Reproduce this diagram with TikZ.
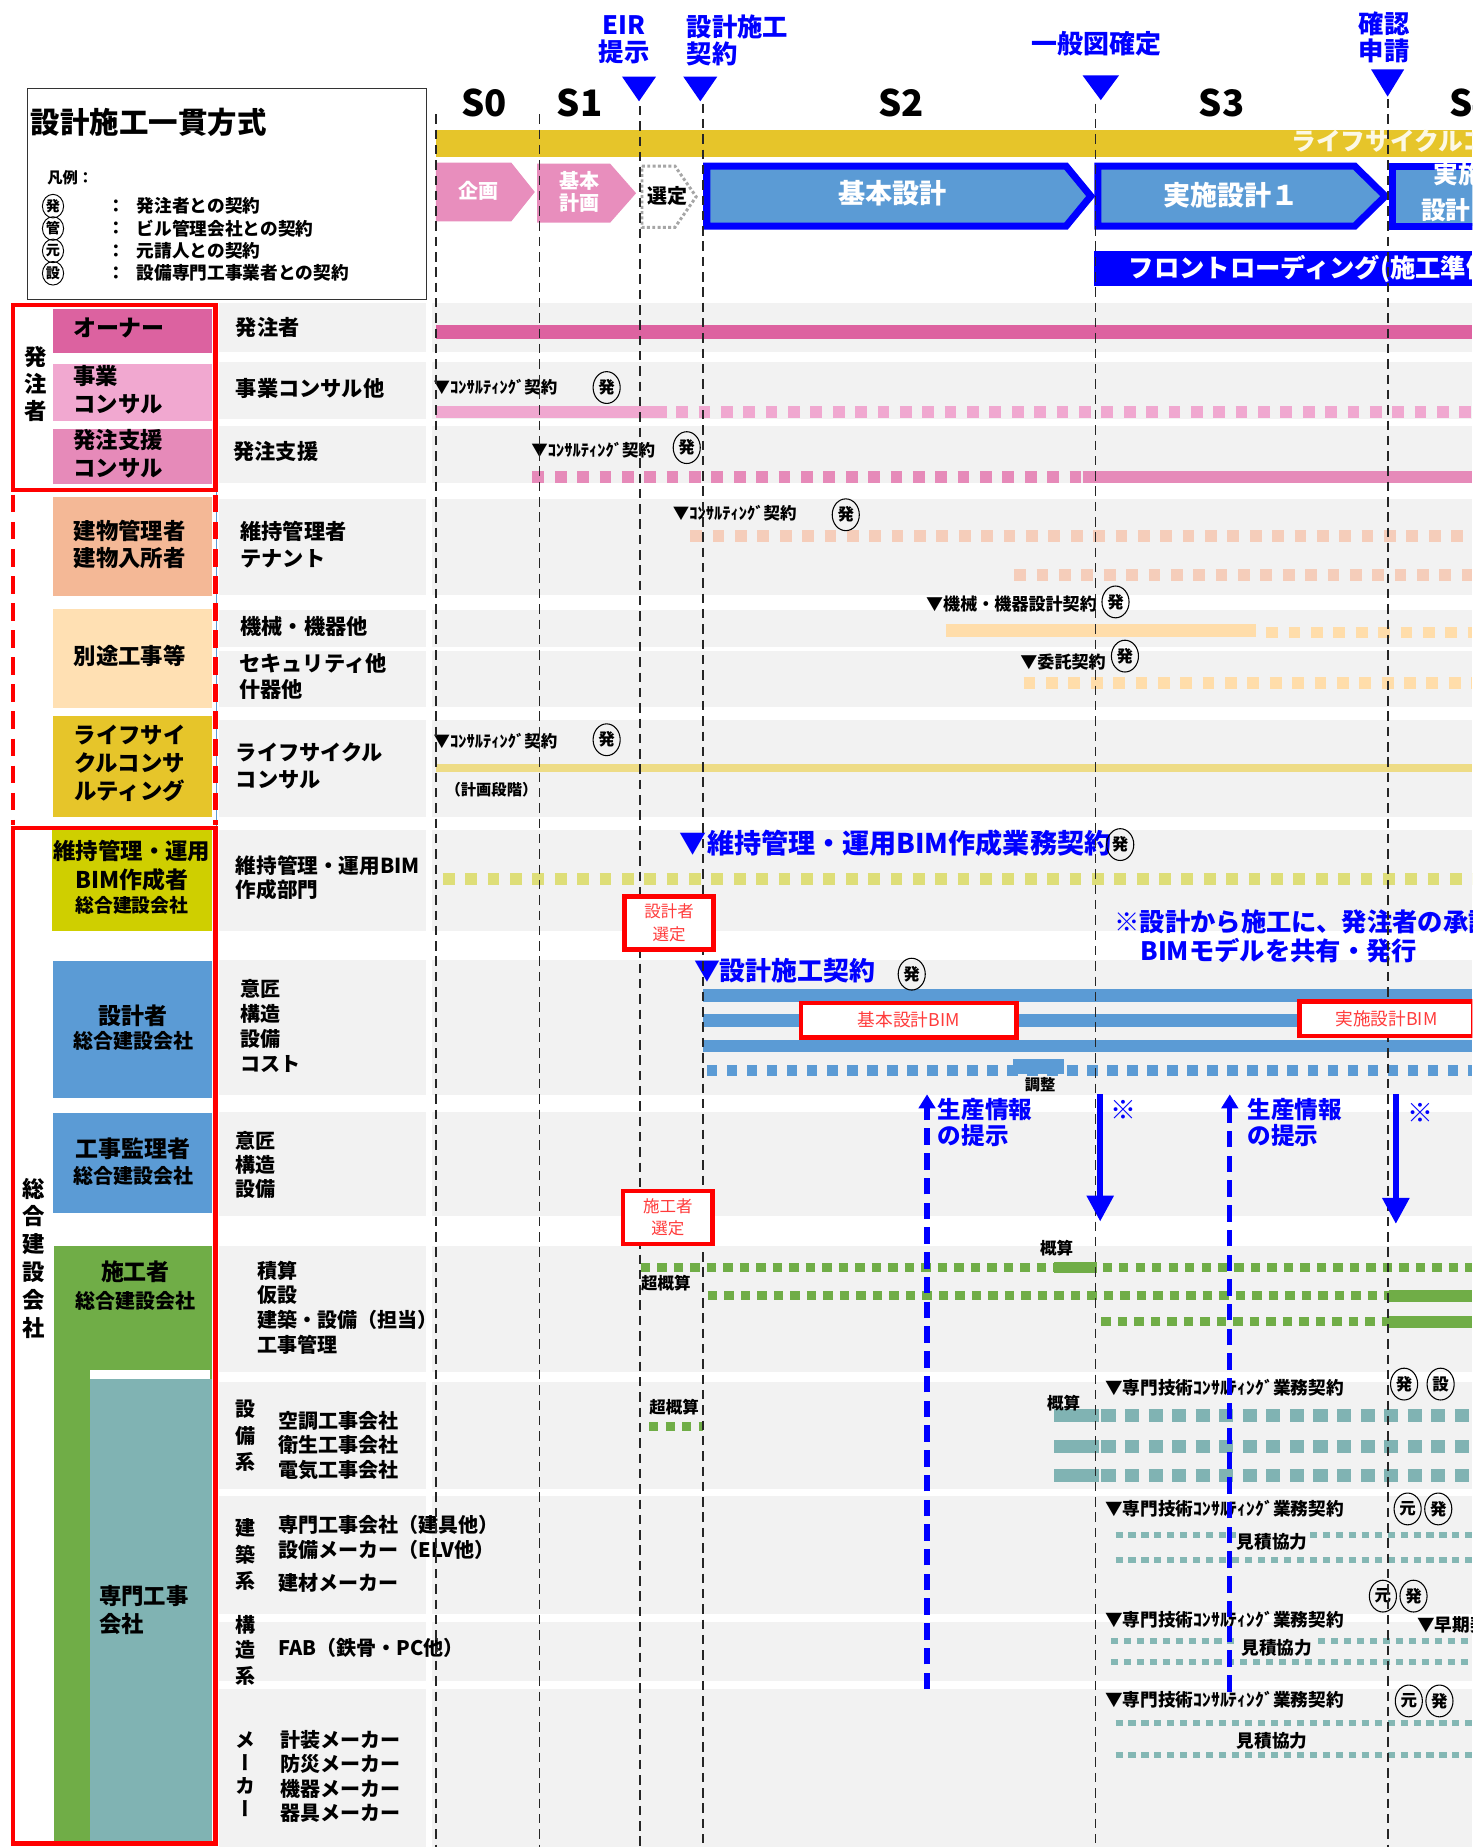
\documentclass[tikz,border=0pt]{standalone}
\usepackage{fontspec}
\setmainfont{Noto Sans CJK JP}
\usetikzlibrary{arrows.meta,shapes.geometric}
\definecolor{bgray}{HTML}{F2F2F2}
\definecolor{ownerpk}{HTML}{DC62A0}
\definecolor{bizpk}{HTML}{F1A8D0}
\definecolor{suppk}{HTML}{E68AB9}
\definecolor{salm}{HTML}{F4B896}
\definecolor{peach}{HTML}{FFE0B3}
\definecolor{gold}{HTML}{E6C52A}
\definecolor{olive}{HTML}{CFCF00}
\definecolor{bbox}{HTML}{5B9BD5}
\definecolor{grn}{HTML}{70AD47}
\definecolor{teal2}{HTML}{80B3B3}
\definecolor{pblue}{HTML}{0000FF}
\definecolor{rred}{HTML}{FF0000}
\definecolor{chevpk}{HTML}{E88EBD}
\definecolor{lcbar}{HTML}{EEDC86}
\definecolor{salmL}{HTML}{F5CDBA}
\definecolor{orgL}{HTML}{FFDDAA}
\definecolor{ygL}{HTML}{DEDE78}
\definecolor{tealL}{HTML}{84B7B4}
\definecolor{pkL}{HTML}{F0A8D0}
\definecolor{pkM}{HTML}{E68AB9}
\definecolor{pkD}{HTML}{DD62A0}
\definecolor{txtred}{HTML}{FF3B3B}
\newcommand\myfs[2]{\fontsize{#1}{#2}\selectfont}
\tikzset{
  lt/.style={anchor=west, inner sep=0pt, align=left},
  ct/.style={inner sep=0pt, align=center},
  circmark/.style={draw, ellipse, line width=0.9pt, minimum width=23pt, minimum height=27pt, inner sep=0pt, font=\bfseries\myfs{14}{14}},
  legmark/.style={draw, ellipse, line width=0.8pt, minimum width=18pt, minimum height=20pt, inner sep=0pt, font=\bfseries\myfs{12}{12}},
  vline/.style={line width=1.6pt, dash pattern=on 8pt off 5pt, black!85},
  rbox/.style={draw=rred, line width=4pt, fill=white, inner sep=0pt, text=txtred, font=\mdseries\myfs{15}{18}, align=center},
  sqd/.style={dash pattern=on 10pt off 9pt},
  grd/.style={grn, line width=8pt, dash pattern=on 8pt off 6pt},
  ttd/.style={teal2, line width=11pt, dash pattern=on 12pt off 8pt},
  tts/.style={tealL, line width=5pt, dash pattern=on 6pt off 5pt},
  bluetext/.style={text=pblue},
  lab/.style={lt, font=\bfseries\myfs{18}{22}},
  ctr/.style={lt, font=\bfseries\myfs{14}{16}},
}
\begin{document}
\begin{tikzpicture}[x=1pt,y=-1pt,font=\bfseries]
\useasboundingbox (0,0) rectangle (1250,1568);
\clip (0,0) rectangle (1250,1568);
\fill[white] (0,0) rectangle (1250,1568);
% row bands
\foreach \a/\b in {257/299,307/356,362/410,424/505,518/549,553/600,611/694,705/790,815/930,944/1032,1058/1165,1173/1264,1270/1370,1377/1427,1434/1568}{
  \fill[bgray] (186,\a) rectangle (362,\b);
  \fill[bgray] (367,\a) rectangle (1250,\b);
}
% legend
\draw[line width=1pt, black!80] (23,75) rectangle (362,254);
\node[lt, font=\bfseries\myfs{25}{28}] (title) at (26,104) {設計施工一貫方式};
\node[lt, font=\bfseries\myfs{13}{15}] (hanrei) at (40,151) {凡例：};
\node[legmark] (lg1) at (45,175) {発};
\node[legmark] (lg2) at (45,194) {管};
\node[legmark] (lg3) at (45,213) {元};
\node[legmark] (lg4) at (45,232) {設};
\foreach \y/\t [count=\i] in {175/発注者との契約,194/ビル管理会社との契約,213/元請人との契約,232/設備専門工事業者との契約}{
  \node[lt, font=\bfseries\myfs{15}{17}] (lgc\i) at (91,\y) {：};
  \node[lt, font=\bfseries\myfs{15}{17}] (lgt\i) at (116,\y) {\t};
}
% top milestones
\node[ct, bluetext, font=\bfseries\myfs{21.5}{23}] (eir) at (530,34) {EIR\\提示};
\node[lt, bluetext, font=\bfseries\myfs{21.5}{23}] (kei) at (583,34) {設計施工\\契約};
\node[ct, bluetext, font=\bfseries\myfs{22}{24}] (ippan) at (931,37) {一般図確定};
\node[ct, bluetext, font=\bfseries\myfs{21.5}{23}] (kakunin) at (1175,32) {確認\\申請};
\fill[pblue] (528,65) -- (557,65) -- (542.5,86) -- cycle;
\fill[pblue] (580,65) -- (609,65) -- (594.5,86) -- cycle;
\fill[pblue] (919,64) -- (950,64) -- (934.5,85) -- cycle;
\fill[pblue] (1164,59) -- (1192,59) -- (1178,82) -- cycle;
% stage labels
\foreach \x/\t [count=\i] in {411/S0,492/S1,765/S2,1037/S3,1250/S4}{
  \node[ct, font=\bfseries\myfs{31}{31}] (st\i) at (\x,87) {\t};
}
% lifecycle band
\fill[gold] (370,110) rectangle (1250,133);
\node[lt, text=white!88!gold, font=\bfseries\myfs{21}{21}] (lcband) at (1096,120) {ライフサイクルコンサルティング};
% chevrons
\fill[chevpk] (370,138) -- (434,138) -- (454,163) -- (434,188) -- (370,188) -- cycle;
\node[ct, text=white, font=\bfseries\myfs{17}{19}] (kikaku) at (406,162) {企画};
\fill[chevpk] (456,139) -- (518,139) -- (540,164) -- (518,189) -- (456,189) -- cycle;
\node[ct, text=white, font=\bfseries\myfs{17}{19}] (kihonk) at (492,163) {基本\\計画};
\draw[gray!70, line width=2.5pt, dotted] (545,141) -- (573,141) -- (591,167) -- (573,193) -- (545,193) -- cycle;
\node[ct, font=\bfseries\myfs{17}{19}] (sentei) at (567,166) {選定};
\draw[pblue, fill=bbox, line width=6pt, line join=miter] (600,141) -- (905,141) -- (926,166.5) -- (905,192) -- (600,192) -- cycle;
\node[ct, text=white, font=\bfseries\myfs{23}{23}] (kihons) at (758,164) {基本設計};
\draw[pblue, fill=bbox, line width=6pt, line join=miter] (932,141) -- (1150,141) -- (1176,166.5) -- (1150,192) -- (932,192) -- cycle;
\node[ct, text=white, font=\bfseries\myfs{23}{23}] (jisshi1) at (1045,166) {実施設計１};
\draw[pblue, fill=bbox, line width=6pt] (1182,141) -- (1262,141) -- (1262,192) -- (1182,192) -- cycle;
\node[ct, text=white, font=\bfseries\myfs{21}{31}] (jisshi2) at (1238,163) {実施\\設計２};
% front loading
\fill[pblue] (929,213) rectangle (1250,243);
\node[lt, text=white, font=\bfseries\myfs{21.5}{22}] (front) at (958,228) {フロントローディング(施工準備)};
% ---- left column boxes
\fill[ownerpk] (45,262) rectangle (180,300);
\fill[bizpk] (45,309) rectangle (180,357);
\fill[suppk] (45,364) rectangle (180,411);
\fill[salm] (45,422) rectangle (180,506);
\fill[peach] (45,517) rectangle (180,601);
\fill[gold] (45,608) rectangle (180,694);
\fill[olive] (44,705) rectangle (180,790);
\fill[bbox] (45,816) rectangle (180,932);
\fill[bbox] (45,945) rectangle (180,1030);
\fill[grn] (46,1058) rectangle (180,1566);
\fill[white] (76,1163) rectangle (178,1171);
\fill[teal2] (76,1171) rectangle (180,1564);
\draw[bbox, line width=0.6pt] (184,417) -- (184,703);
\draw[rred, line width=4pt] (11,259) rectangle (183,416);
\draw[rred, line width=4pt, dash pattern=on 15pt off 8pt] (11,420) -- (11,700);
\draw[rred, line width=4pt, dash pattern=on 15pt off 8pt] (183,420) -- (183,700);
\draw[rred, line width=4pt] (11,703) rectangle (183,1565);
\node[ct, font=\bfseries\myfs{19}{23}] (hachu) at (30,326) {発\\注\\者};
\node[ct, font=\bfseries\myfs{19}{23.6}] (sogo) at (29,1068) {総\\合\\建\\設\\会\\社};
\node[ct, font=\bfseries\myfs{19.5}{22}] (owner) at (101,278) {オーナー};
\node[lt, font=\bfseries\myfs{19}{24}] (jigyo) at (62,331) {事業\\コンサル};
\node[lt, font=\bfseries\myfs{19}{24}] (shien) at (62,385) {発注支援\\コンサル};
\node[ct, font=\bfseries\myfs{19}{23}] (tatemono) at (110,462) {建物管理者\\建物入所者};
\node[ct, font=\bfseries\myfs{19}{23}] (betto) at (110,557) {別途工事等};
\node[ct, font=\bfseries\myfs{19}{23.5}] (lcc) at (110,648) {ライフサイ\\クルコンサ\\ルティング};
\node[ct, font=\bfseries\myfs{19}{22}] (bim1) at (112,722) {維持管理・運用};
\node[ct, font=\bfseries\myfs{19.5}{22}] (bim2) at (112,747) {BIM作成者};
\node[ct, font=\bfseries\myfs{16}{18}] (bim3) at (112,769) {総合建設会社};
\node[ct, font=\bfseries\myfs{19.5}{22}] (sekkei1) at (113,862) {設計者};
\node[ct, font=\bfseries\myfs{17}{19}] (sekkei2) at (113,884) {総合建設会社};
\node[ct, font=\bfseries\myfs{19.5}{22}] (kanri1) at (113,975) {工事監理者};
\node[ct, font=\bfseries\myfs{17}{19}] (kanri2) at (113,998) {総合建設会社};
\node[ct, font=\bfseries\myfs{19.5}{22}] (seko1) at (115,1080) {施工者};
\node[ct, font=\bfseries\myfs{17}{19}] (seko2) at (115,1104) {総合建設会社};
\node[lt, font=\bfseries\myfs{19}{24}] (senmon) at (84,1367) {専門工事\\会社};
% ---- label column
\node[lab] (l1) at (200,278) {発注者};
\node[lab] (l2) at (200,330) {事業コンサル他};
\node[lab] (l3) at (198,383) {発注支援};
\node[lt, font=\bfseries\myfs{18}{23}] (l4) at (204,462) {維持管理者\\テナント};
\node[lab] (l5) at (204,532) {機械・機器他};
\node[lt, font=\bfseries\myfs{18}{22}] (l6) at (203,574) {セキュリティ他\\什器他};
\node[lt, font=\bfseries\myfs{18}{23}] (l7) at (200,650) {ライフサイクル\\コンサル};
\node[lt, font=\bfseries\myfs{17.5}{20}] (l8) at (200,745) {維持管理・運用BIM\\作成部門};
\node[lt, font=\bfseries\myfs{17}{21.3}] (l9) at (204,871) {意匠\\構造\\設備\\コスト};
\node[lt, font=\bfseries\myfs{17}{20.5}] (l10) at (200,989) {意匠\\構造\\設備};
\node[lt, font=\bfseries\myfs{17}{21}] (l11) at (218,1110) {積算\\仮設\\建築・設備（担当）\\工事管理};
\node[lt, font=\bfseries\myfs{17}{22.5}] (l12a) at (200,1219) {設\\備\\系};
\node[lt, font=\bfseries\myfs{17}{21}] (l12b) at (236,1227) {空調工事会社\\衛生工事会社\\電気工事会社};
\node[lt, font=\bfseries\myfs{17}{22.5}] (l13a) at (200,1320) {建\\築\\系};
\node[lt, font=\bfseries\myfs{17}{21}] (l13b) at (236,1305) {専門工事会社（建具他）\\設備メーカー（ELV他）};
\node[lt, font=\bfseries\myfs{17}{21}] (l13c) at (236,1344) {建材メーカー};
\node[lt, font=\bfseries\myfs{17}{22}] (l14a) at (200,1401) {構\\造\\系};
\node[lt, font=\bfseries\myfs{17}{21}] (l14b) at (236,1399) {FAB（鉄骨・PC他）};
\node[ct, font=\bfseries\myfs{17}{19.7}\addfontfeatures{RawFeature=+vert}] (l15a) at (208,1506) {メ\\ー\\カ\\ー};
\node[lt, font=\bfseries\myfs{17}{20.7}] (l15b) at (238,1508) {計装メーカー\\防災メーカー\\機器メーカー\\器具メーカー};
% ---- bars
\draw[pkD, line width=12pt] (370,282) -- (1250,282);
\draw[pkL, line width=10pt] (370,350) -- (566,350);
\draw[pkL, line width=10pt, sqd] (574,350) -- (1250,350);
\draw[pkM, line width=10pt, sqd] (452,405) -- (919,405);
\draw[pkM, line width=10pt] (919,405) -- (1250,405);
\draw[salmL, line width=10pt, sqd] (586,455) -- (1250,455);
\draw[salmL, line width=10pt, sqd] (861,488) -- (1250,488);
\draw[orgL, line width=11pt] (803,535) -- (1066,535);
\draw[orgL, line width=10pt, sqd] (1075,537) -- (1250,537);
\draw[orgL, line width=10pt, sqd] (869,580) -- (1250,580);
\draw[lcbar, line width=7pt] (370,652) -- (1250,652);
\draw[ygL, line width=10pt, sqd] (376,746) -- (1250,746);
\draw[bbox, line width=11pt] (597,845) -- (1250,845);
\draw[bbox, line width=11pt] (597,866) -- (1250,866);
\draw[bbox, line width=11pt] (597,888) -- (1250,888);
\draw[bbox, line width=9pt, dash pattern=on 9pt off 8pt] (600,909) -- (1250,909);
\fill[bbox] (860,899) rectangle (903,912);
\draw[grd] (544,1076) -- (1250,1076);
\draw[grn, line width=9pt] (895,1076) -- (931,1076);
\draw[grd] (601,1100) -- (1179,1100);
\draw[grn, line width=10pt] (1179,1100) -- (1250,1100);
\draw[grd] (935,1122) -- (1179,1122);
\draw[grn, line width=10pt] (1179,1122) -- (1250,1122);
\draw[grd] (551,1211) -- (597,1211);
\foreach \y in {1202,1228,1253}{
  \draw[teal2, line width=11pt] (895,\y) -- (933,\y);
  \draw[ttd] (935,\y) -- (1250,\y);
}
\draw[tts] (947,1303) -- (1250,1303);
\draw[tts] (947,1324) -- (1250,1324);
\draw[tts] (943,1393) -- (1250,1393);
\draw[tts] (943,1411) -- (1250,1411);
\draw[tts] (947,1463) -- (1250,1463);
\draw[tts] (947,1490) -- (1250,1490);
% ---- contract texts
\node[ctr] (k1) at (368,329) {▼ｺﾝｻﾙﾃｨﾝｸﾞ契約};
\node[ctr] (k2) at (451,382) {▼ｺﾝｻﾙﾃｨﾝｸﾞ契約};
\node[ctr] (k3) at (571,436) {▼ｺﾝｻﾙﾃｨﾝｸﾞ契約};
\node[lt, font=\bfseries\myfs{14.5}{16}] (k4) at (786,513) {▼機械・機器設計契約};
\node[lt, font=\bfseries\myfs{14.5}{16}] (k5) at (866,562) {▼委託契約};
\node[ctr] (k6) at (368,629) {▼ｺﾝｻﾙﾃｨﾝｸﾞ契約};
\node[lt, font=\bfseries\myfs{13}{15}] (keikaku) at (378,670) {（計画段階）};
\node[lt, bluetext, font=\bfseries\myfs{23}{24}] (k7) at (577,716) {▼維持管理・運用BIM作成業務契約};
\node[lt, bluetext, font=\bfseries\myfs{22}{24}] (k8) at (589,824) {▼設計施工契約};
\node[lt, bluetext, font=\bfseries\myfs{21.5}{24}] (note1) at (946,783) {※設計から施工に、発注者の承認};
\node[lt, bluetext, font=\bfseries\myfs{21.5}{24}] (note2) at (968,807) {BIMモデルを共有・発行};
\node[ctr, font=\bfseries\myfs{15}{16}] (k9) at (938,1178) {▼専門技術ｺﾝｻﾙﾃｨﾝｸﾞ業務契約};
\node[ctr, font=\bfseries\myfs{15}{16}] (k10) at (938,1281) {▼専門技術ｺﾝｻﾙﾃｨﾝｸﾞ業務契約};
\node[ctr, font=\bfseries\myfs{15}{16}] (k11) at (938,1375) {▼専門技術ｺﾝｻﾙﾃｨﾝｸﾞ業務契約};
\node[ctr, font=\bfseries\myfs{15}{16}] (k12) at (938,1443) {▼専門技術ｺﾝｻﾙﾃｨﾝｸﾞ業務契約};
\node[ctr, font=\bfseries\myfs{15}{16}] (k13) at (1203,1379) {▼早期契約};
\node[ct, font=\bfseries\myfs{13}{15}] (chosei) at (883,921) {調整};
\node[ct, font=\bfseries\myfs{14}{15}] (gaisan1) at (897,1060) {概算};
\node[lt, font=\bfseries\myfs{14}{15}] (cho1) at (544,1089) {超概算};
\node[lt, font=\bfseries\myfs{14}{15}] (cho2) at (551,1195) {超概算};
\node[ct, font=\bfseries\myfs{14}{15}] (gaisan2) at (903,1191) {概算};
\node[ct, fill=bgray, inner sep=1pt, font=\bfseries\myfs{15}{16}] (mi1) at (1080,1309) {見積協力};
\node[ct, fill=bgray, inner sep=1pt, font=\bfseries\myfs{15}{16}] (mi2) at (1084,1399) {見積協力};
\node[ct, fill=bgray, inner sep=1pt, font=\bfseries\myfs{15}{16}] (mi3) at (1080,1478) {見積協力};
% circle marks
\node[circmark] (m1) at (515,329) {発};
\node[circmark] (m2) at (583,380) {発};
\node[circmark] (m3) at (718,437) {発};
\node[circmark] (m4) at (947,511) {発};
\node[circmark] (m5) at (955,557) {発};
\node[circmark] (m6) at (515,628) {発};
\node[circmark] (m7) at (951,717) {発};
\node[circmark] (m8) at (774,827) {発};
\node[circmark] (m9) at (1192,1175) {発};
\node[circmark] (m10) at (1223,1175) {設};
\node[circmark] (m11) at (1195,1281) {元};
\node[circmark] (m12) at (1221,1281) {発};
\node[circmark] (m13) at (1174,1355) {元};
\node[circmark] (m14) at (1200,1355) {発};
\node[circmark] (m15) at (1196,1444) {元};
\node[circmark] (m16) at (1222,1444) {発};
% ---- vertical dashed phase lines
\draw[vline] (370,97) -- (370,1568);
\draw[vline] (458,97) -- (458,1568);
\draw[vline] (543,90) -- (543,1568);
\draw[vline] (597,88) -- (597,1568);
\draw[vline] (930,88) -- (930,1568);
\draw[vline] (1178,84) -- (1178,1568);
% red boxes
\node[rbox, minimum width=76pt, minimum height=45pt, font=\mdseries\myfs{14}{19}] (selD) at (568,783.5) {設計者\\選定};
\node[rbox, minimum width=76pt, minimum height=45pt, font=\mdseries\myfs{14}{19}] (selC) at (567,1033.5) {施工者\\選定};
\node[rbox, minimum width=183pt, minimum height=29pt] (bimK) at (771.5,866) {基本設計BIM};
\node[rbox, minimum width=148pt, minimum height=29pt] (bimJ) at (1177,865) {実施設計BIM};
% ---- blue arrows
\coordinate (u1s) at (787,1434); \coordinate (u1e) at (787,929);
\coordinate (u2s) at (1044,1436); \coordinate (u2e) at (1044,929);
\coordinate (d1s) at (934,929); \coordinate (d1e) at (934,1037);
\coordinate (d2s) at (1185,929); \coordinate (d2e) at (1185,1039);
\draw[pblue, line width=4.5pt, dash pattern=on 14pt off 7pt, -{Triangle[width=14pt,length=12pt]}] (u1s) -- (u1e);
\draw[pblue, line width=4.5pt, dash pattern=on 14pt off 7pt, -{Triangle[width=14pt,length=12pt]}] (u2s) -- (u2e);
\draw[pblue, line width=5pt, -{Triangle[width=22pt,length=22pt]}] (d1s) -- (d1e);
\draw[pblue, line width=5pt, -{Triangle[width=22pt,length=22pt]}] (d2s) -- (d2e);
\node[lt, bluetext, font=\bfseries\myfs{20}{22}] (sei1) at (796,953) {生産情報\\の提示};
\node[lt, bluetext, font=\bfseries\myfs{20}{22}] (sei2) at (1059,953) {生産情報\\の提示};
\node[ct, bluetext, font=\bfseries\myfs{22}{22}] (kome1) at (954,942) {※};
\node[ct, bluetext, font=\bfseries\myfs{22}{22}] (kome2) at (1206,945) {※};
\end{tikzpicture}
\end{document}
